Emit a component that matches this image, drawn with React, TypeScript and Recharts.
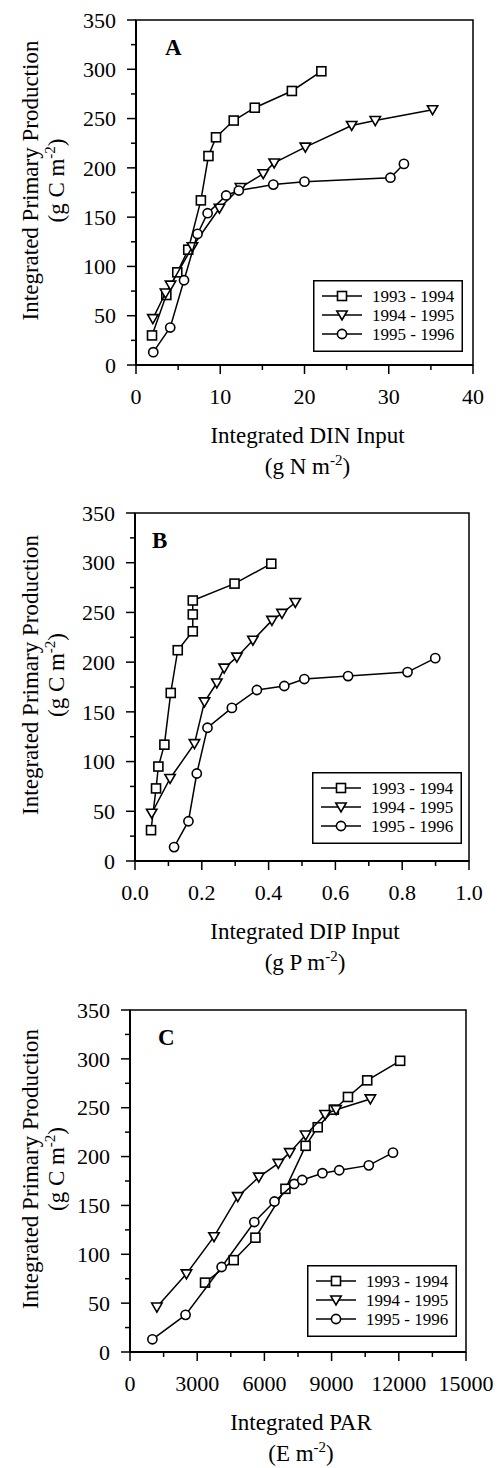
import React from "react";
import { ScatterChart, Scatter, XAxis, YAxis, ReferenceArea, Legend } from "recharts";

const FONT = "'Liberation Serif', 'Times New Roman', Times, serif";
const SEASONS = ["1993 - 1994", "1994 - 1995", "1995 - 1996"];
const Y_TICKS = [0, 25, 50, 75, 100, 125, 150, 175, 200, 225, 250, 275, 300, 325, 350];

// Panel A: integrated DIN input (g N m-2)
const dinA93 = [1.9, 3.6, 4.9, 6.2, 7.7, 8.6, 9.5, 11.6, 14.1, 18.5, 22.0];
const ppA93 = [30, 71, 94, 117, 167, 212, 231, 248, 261, 278, 298];
const dinA94 = [2.0, 3.5, 4.1, 6.7, 9.9, 12.4, 15.1, 16.4, 20.1, 25.6, 28.4, 35.2];
const ppA94 = [47, 73, 81, 120, 159, 180, 194, 205, 221, 243, 248, 259];
const dinA95 = [2.05, 4.06, 5.7, 7.3, 8.5, 10.7, 12.2, 16.3, 20.0, 30.2, 31.8];
const ppA95 = [13, 38, 86, 133, 154, 172, 177, 183, 186, 190, 204];
const dinTicks = [0, 5, 10, 15, 20, 25, 30, 35, 40];

// Panel B: integrated DIP input (g P m-2)
const dipB93 = [0.048, 0.063, 0.07, 0.088, 0.107, 0.128, 0.173, 0.173, 0.173, 0.298, 0.408];
const ppB93 = [31, 73, 95, 117, 169, 212, 231, 248, 262, 279, 299];
const dipB94 = [0.05, 0.105, 0.178, 0.208, 0.245, 0.267, 0.305, 0.353, 0.41, 0.44, 0.48];
const ppB94 = [48, 83, 118, 160, 179, 194, 205, 222, 242, 249, 260];
const dipB95 = [0.117, 0.16, 0.185, 0.217, 0.29, 0.365, 0.447, 0.507, 0.638, 0.816, 0.899];
const ppB95 = [14, 40, 88, 134, 154, 172, 176, 183, 186, 190, 204];
const dipTicks = [0, 0.1, 0.2, 0.3, 0.4, 0.5, 0.6, 0.7, 0.8, 0.9, 1.0];

// Panel C: integrated PAR (E m-2)
const parC93 = [3350, 4630, 5600, 6940, 7840, 8380, 9100, 9730, 10590, 12060];
const ppC93 = [71, 94, 117, 167, 211, 230, 248, 261, 278, 298];
const parC94 = [1200, 2520, 3750, 4810, 5750, 6620, 7130, 7840, 8710, 9200, 10730];
const ppC94 = [46, 80, 118, 159, 179, 193, 204, 222, 243, 248, 259];
const parC95 = [1000, 2480, 4090, 5550, 6450, 7330, 7690, 8590, 9340, 10660, 11740];
const ppC95 = [13, 38, 87, 133, 154, 172, 176, 183, 186, 191, 204];
const parTicks = [0, 1500, 3000, 4500, 6000, 7500, 9000, 10500, 12000, 13500, 15000];

const zip = (xs: number[], ys: number[]) => xs.map((x, i) => ({ x, y: ys[i] }));

const Square = (p: any) => (
  <rect x={p.cx - 4.5} y={p.cy - 4.5} width={9} height={9} fill="#fff" stroke="#000" strokeWidth={1.6} />
);
const TriDown = (p: any) => (
  <path
    d={`M${p.cx - 5.2},${p.cy - 4} L${p.cx + 5.2},${p.cy - 4} L${p.cx},${p.cy + 5} Z`}
    fill="#fff"
    stroke="#000"
    strokeWidth={1.6}
  />
);
const Circ = (p: any) => <circle cx={p.cx} cy={p.cy} r={4.6} fill="#fff" stroke="#000" strokeWidth={1.6} />;
const SHAPES = [Square, TriDown, Circ];

const YTick = (p: any) => {
  const v = p.payload.value;
  const major = v % 50 === 0;
  return (
    <g>
      <line x1={p.x - (major ? 9 : 5)} x2={p.x} y1={p.y} y2={p.y} stroke="#000" strokeWidth={1.5} />
      {major && (
        <text x={p.x - 20} y={p.y} dy="0.35em" textAnchor="end" fontSize={22} fontFamily={FONT} fill="#000">
          {v}
        </text>
      )}
    </g>
  );
};

const makeXTick = (isMajor: (v: number) => boolean, fmt: (v: number) => string) => (p: any) => {
  const v = p.payload.value;
  const major = isMajor(v);
  return (
    <g>
      <line x1={p.x} x2={p.x} y1={p.y} y2={p.y + (major ? 9 : 5)} stroke="#000" strokeWidth={1.5} />
      {major && (
        <text x={p.x} y={p.y + 31} dy="0.35em" textAnchor="middle" fontSize={22} fontFamily={FONT} fill="#000">
          {fmt(v)}
        </text>
      )}
    </g>
  );
};

const LegendBox = ({ payload }: any) => {
  const names = payload && payload.length ? payload.map((e: any) => e.value) : SEASONS;
  return (
    <svg width={150} height={72} style={{ display: "block" }}>
      <rect x={0.75} y={0.75} width={148.5} height={70.5} fill="#fff" stroke="#000" strokeWidth={1.5} />
      {names.map((n: string, i: number) => {
        const cy = 16 + i * 19;
        const Shape = SHAPES[i];
        return (
          <g key={n}>
            <line x1={9} x2={49} y1={cy} y2={cy} stroke="#000" strokeWidth={1.5} />
            <Shape cx={29} cy={cy} />
            <text x={59} y={cy} dy="0.35em" fontSize={17} fontFamily={FONT} fill="#000">
              {n}
            </text>
          </g>
        );
      })}
    </svg>
  );
};

type PanelProps = {
  top: number;
  letter: string;
  letterDx: number;
  plotLeft: number;
  plotRight: number;
  plotHeight: number;
  xDomain: [number, number];
  xTicks: number[];
  isMajor: (v: number) => boolean;
  fmt: (v: number) => string;
  xTitle: string;
  unit: string;
  legendPos: { left: number; top: number };
  series: { x: number; y: number }[][];
};

const Panel = (props: PanelProps) => {
  const { top, letter, letterDx, plotLeft, plotRight, plotHeight, xDomain, xTicks, isMajor, fmt, xTitle, unit, legendPos, series } = props;
  const plotTop = 20;
  const plotBottom = plotTop + plotHeight;
  const bottomPad = 14;
  const height = plotBottom + 110 + bottomPad;
  const cx = (plotLeft + plotRight) / 2 + 3;
  const cy = (plotTop + plotBottom) / 2 - 12;

  const yTitle = () => (
    <g fontFamily={FONT} fill="#000">
      <text transform={`translate(30, ${cy}) rotate(-90)`} textAnchor="middle" dy="0.35em" fontSize={23}>
        Integrated Primary Production
      </text>
      <text transform={`translate(56, ${cy}) rotate(-90)`} textAnchor="middle" dy="0.35em" fontSize={23}>
        (g C m<tspan dy={-9} fontSize={15}>-2</tspan>
        <tspan dy={9}>)</tspan>
      </text>
      <text x={plotLeft + letterDx} y={plotTop + 35} fontSize={23} fontWeight="bold">
        {letter}
      </text>
    </g>
  );

  const xTitleRender = () => (
    <g fontFamily={FONT} fill="#000">
      <text x={cx} y={plotBottom + 70} dy="0.35em" textAnchor="middle" fontSize={23}>
        {xTitle}
      </text>
      <text x={cx} y={plotBottom + 101} dy="0.35em" textAnchor="middle" fontSize={23}>
        ({unit}<tspan dy={-9} fontSize={15}>-2</tspan>
        <tspan dy={9}>)</tspan>
      </text>
    </g>
  );

  return (
    <div style={{ position: "absolute", left: 0, top }}>
      <ScatterChart
        width={501}
        height={height}
        margin={{ top: plotTop, right: 501 - plotRight, bottom: bottomPad, left: 0 }}
      >
        <XAxis
          type="number"
          dataKey="x"
          domain={xDomain}
          ticks={xTicks}
          interval={0}
          allowDataOverflow
          tickSize={0}
          tickMargin={0}
          tickLine={false}
          axisLine={{ stroke: "#000", strokeWidth: 2 }}
          tick={makeXTick(isMajor, fmt)}
          height={110}
          label={{ content: xTitleRender }}
        />
        <YAxis
          type="number"
          dataKey="y"
          domain={[0, 350]}
          ticks={Y_TICKS}
          interval={0}
          allowDataOverflow
          tickSize={0}
          tickMargin={0}
          tickLine={false}
          axisLine={{ stroke: "#000", strokeWidth: 2 }}
          tick={YTick}
          width={plotLeft}
          label={{ content: yTitle }}
        />
        <ReferenceArea x1={xDomain[0]} x2={xDomain[1]} y1={0} y2={350} fill="none" stroke="#000" strokeWidth={1.5} />
        {series.map((d, i) => (
          <Scatter
            key={SEASONS[i]}
            name={SEASONS[i]}
            data={d}
            shape={SHAPES[i]}
            line={{ stroke: "#000", strokeWidth: 1.5 }}
            lineType="joint"
            isAnimationActive={false}
          />
        ))}
        <Legend
          layout="vertical"
          align="center"
          verticalAlign="middle"
          content={(p: any) => <LegendBox payload={p.payload} />}
          wrapperStyle={{ left: legendPos.left, top: legendPos.top, width: 150, height: 72 }}
        />
      </ScatterChart>
    </div>
  );
};

export default function App() {
  return (
    <div style={{ position: "absolute", left: 0, top: 0, width: 501, height: 1468, background: "#fff", overflow: "hidden" }}>
      <Panel
        top={0}
        letter="A"
        letterDx={29}
        plotLeft={136}
        plotRight={473}
        plotHeight={345}
        xDomain={[0, 40]}
        xTicks={dinTicks}
        isMajor={(v) => v % 10 === 0}
        fmt={(v) => String(v)}
        xTitle="Integrated DIN Input"
        unit="g N m"
        legendPos={{ left: 313, top: 280 }}
        series={[zip(dinA93, ppA93), zip(dinA94, ppA94), zip(dinA95, ppA95)]}
      />
      <Panel
        top={493}
        letter="B"
        letterDx={17}
        plotLeft={135}
        plotRight={469}
        plotHeight={348}
        xDomain={[0, 1]}
        xTicks={dipTicks}
        isMajor={(v) => Math.round(v * 10) % 2 === 0}
        fmt={(v) => v.toFixed(1)}
        xTitle="Integrated DIP Input"
        unit="g P m"
        legendPos={{ left: 312, top: 279 }}
        series={[zip(dipB93, ppB93), zip(dipB94, ppB94), zip(dipB95, ppB95)]}
      />
      <Panel
        top={990}
        letter="C"
        letterDx={28}
        plotLeft={130}
        plotRight={466}
        plotHeight={342}
        xDomain={[0, 15000]}
        xTicks={parTicks}
        isMajor={(v) => v % 3000 === 0}
        fmt={(v) => String(v)}
        xTitle="Integrated PAR"
        unit="E m"
        legendPos={{ left: 307, top: 275 }}
        series={[zip(parC93, ppC93), zip(parC94, ppC94), zip(parC95, ppC95)]}
      />
    </div>
  );
}
